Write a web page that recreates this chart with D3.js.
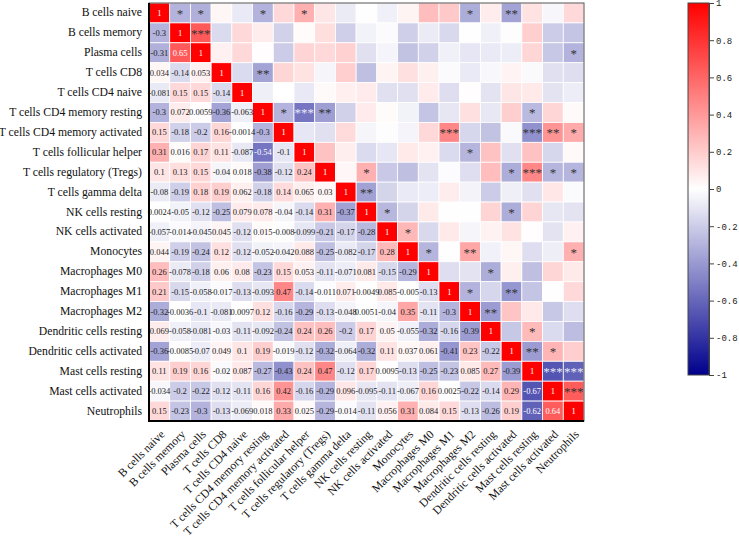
<!DOCTYPE html>
<html><head><meta charset="utf-8">
<script src="https://cdn.jsdelivr.net/npm/d3@7"></script>
<style>html,body{margin:0;padding:0;background:#fff;}svg{display:block;}</style>
</head><body>
<svg id="chart" width="739" height="537"></svg>
<script>
const cellTypes = ["B cells naive","B cells memory","Plasma cells","T cells CD8","T cells CD4 naive",
"T cells CD4 memory resting","T cells CD4 memory activated","T cells follicular helper",
"T cells regulatory (Tregs)","T cells gamma delta","NK cells resting","NK cells activated",
"Monocytes","Macrophages M0","Macrophages M1","Macrophages M2","Dendritic cells resting",
"Dendritic cells activated","Mast cells resting","Mast cells activated","Neutrophils"];

// lower triangle correlation values, row i has i values (columns 0..i-1)
const lowerTri = [
 [],
 [-0.3],
 [-0.31,0.65],
 [0.034,-0.14,0.053],
 [-0.081,0.15,0.15,-0.14],
 [-0.3,0.072,0.0059,-0.36,-0.063],
 [0.15,-0.18,-0.2,0.16,-0.0014,-0.3],
 [0.31,0.016,0.17,0.11,-0.087,-0.54,-0.1],
 [0.1,0.13,0.15,-0.04,0.018,-0.38,-0.12,0.24],
 [-0.08,-0.19,0.18,0.19,0.062,-0.18,0.14,0.065,0.03],
 [0.0024,-0.05,-0.12,-0.25,0.079,0.078,-0.04,-0.14,0.31,-0.37],
 [-0.057,-0.014,-0.045,0.045,-0.12,0.015,-0.008,-0.099,-0.21,-0.17,-0.28],
 [0.044,-0.19,-0.24,0.12,-0.12,-0.052,-0.042,0.088,-0.25,-0.082,-0.17,0.28],
 [0.26,-0.078,-0.18,0.06,0.08,-0.23,0.15,0.053,-0.11,-0.071,0.081,-0.15,-0.29],
 [0.21,-0.15,-0.058,-0.017,-0.13,-0.093,0.47,-0.14,-0.011,0.071,-0.0049,0.085,-0.005,-0.13],
 [-0.32,-0.0036,-0.1,-0.081,0.0097,0.12,-0.16,-0.29,-0.13,-0.048,0.0051,-0.04,0.35,-0.11,-0.3],
 [0.069,-0.058,-0.081,-0.03,-0.11,-0.092,-0.24,0.24,0.26,-0.2,0.17,0.05,-0.055,-0.32,-0.16,-0.39],
 [-0.36,-0.0085,-0.07,0.049,0.1,0.19,-0.019,-0.12,-0.32,-0.064,-0.32,0.11,0.037,0.061,-0.41,0.23,-0.22],
 [0.11,0.19,0.16,-0.02,0.087,-0.27,-0.43,0.24,0.47,-0.12,0.17,0.0095,-0.13,-0.25,-0.23,0.085,0.27,-0.39],
 [-0.034,-0.2,-0.22,-0.12,-0.11,0.16,0.42,-0.16,-0.29,0.096,-0.095,-0.11,-0.067,0.16,0.0025,-0.22,-0.14,0.29,-0.67],
 [0.15,-0.23,-0.3,-0.13,-0.069,0.018,0.33,0.025,-0.29,-0.014,-0.11,0.056,0.31,0.084,0.15,-0.13,-0.26,0.19,-0.62,0.64]
];

// significance marks in upper triangle: [row, col, stars]
const sigRows = [0,0,0,0,0,0,1,2,3,5,5,5,5,6,6,6,6,7,8,8,8,8,8,9,10,10,11,12,12,12,13,14,14,15,16,17,17,18,18,19];
const sigCols = [1,2,5,7,15,17,2,20,5,6,7,8,18,14,18,19,20,15,10,17,18,19,20,10,11,17,12,13,15,20,16,15,17,16,18,18,19,19,20,20];
const sigStars = ["*","*","*","*","*","**","***","*","**","*","***","**","*","***","***","**","*","*","*","*","***","*","*","**","*","*","*","*","**","*","*","*","**","**","*","**","*","***","***","***"];

const colorTicks = [1,0.8,0.6,0.4,0.2,0,-0.2,-0.4,-0.6,-0.8,-1];
const colorTickLabels = ["1","0.8","0.6","0.4","0.2","0","-0.2","-0.4","-0.6","-0.8","-1"];

const n = cellTypes.length;
const M = d3.range(n).map(i => d3.range(n).map(j => {
  if (i === j) return 1;
  return i > j ? lowerTri[i][j] : lowerTri[j][i];
}));

const svg = d3.select("#chart");
const gx0 = 149, gx1 = 584, gy0 = 3, gy1 = 421;
const x = d3.scaleBand().domain(d3.range(n)).range([gx0, gx1]);
const y = d3.scaleBand().domain(d3.range(n)).range([gy0, gy1]);
const color = d3.scaleLinear().domain([-1,0,1]).range(["#00008c","#ffffff","#ff0000"]).interpolate(d3.interpolateRgb).clamp(true);

const cells = [];
for (let i=0;i<n;i++) for (let j=0;j<n;j++) cells.push({i,j,v:M[i][j]});

svg.append("g").selectAll("rect").data(cells).join("rect")
  .attr("x", d => x(d.j)).attr("y", d => y(d.i))
  .attr("width", x.bandwidth()).attr("height", y.bandwidth())
  .attr("fill", d => color(d.v))
  .attr("stroke", "#ffffff").attr("stroke-width", 0.8);

// numbers (lower triangle + diagonal)
svg.append("g").selectAll("text").data(cells.filter(d => d.i >= d.j)).join("text")
  .attr("x", d => x(d.j) + x.bandwidth()/2)
  .attr("y", d => y(d.i) + y.bandwidth()/2)
  .attr("text-anchor","middle").attr("dominant-baseline","central")
  .attr("font-family","'Liberation Serif', 'Times New Roman', serif")
  .attr("font-size", 8.5)
  .attr("fill", d => (Math.abs(d.v) > 0.5) ? "#ffffff" : "#222")
  .text(d => String(d.v));

// stars (upper triangle)
const sig = sigRows.map((r,k) => ({i:r, j:sigCols[k], s:sigStars[k], v:M[r][sigCols[k]]}));
svg.append("g").selectAll("text").data(sig).join("text")
  .attr("x", d => x(d.j) + x.bandwidth()/2)
  .attr("y", d => y(d.i) + y.bandwidth()/2 + 5)
  .attr("text-anchor","middle")
  .attr("font-family","'Liberation Serif', 'Times New Roman', serif")
  .attr("font-size", 13)
  .attr("fill", d => d.v < -0.5 ? "#e8e8f4" : "#333")
  .text(d => d.s);

// border
svg.append("rect").attr("x", gx0).attr("y", gy0).attr("width", gx1-gx0).attr("height", gy1-gy0)
  .attr("fill","none").attr("stroke","#555").attr("stroke-width",1);
svg.append("line").attr("x1",gx0).attr("x2",gx0).attr("y1",gy0).attr("y2",gy1+1).attr("stroke","#000").attr("stroke-width",2);
svg.append("line").attr("x1",gx0).attr("x2",gx1).attr("y1",gy1).attr("y2",gy1).attr("stroke","#000").attr("stroke-width",2);

// row labels
svg.append("g").selectAll("text").data(cellTypes).join("text")
  .attr("x", gx0 - 7).attr("y", (d,i) => y(i) + y.bandwidth()/2)
  .attr("text-anchor","end").attr("dominant-baseline","central")
  .attr("font-family","'Liberation Serif', 'Times New Roman', serif")
  .attr("font-size", 11.7).attr("fill","#111")
  .text(d => d);

// column labels
svg.append("g").selectAll("text").data(cellTypes).join("text")
  .attr("transform", (d,i) => `translate(${x(i) + x.bandwidth()/2 + 6},${gy1 + 14}) rotate(-45)`)
  .attr("text-anchor","end")
  .attr("font-family","'Liberation Serif', 'Times New Roman', serif")
  .attr("font-size", 11.7).attr("fill","#111")
  .text(d => d);

// colorbar
const cbX = 688, cbW = 21, cbY0 = 3, cbY1 = 375;
const defs = svg.append("defs");
const grad = defs.append("linearGradient").attr("id","cbgrad").attr("x1","0").attr("y1","1").attr("x2","0").attr("y2","0");
d3.range(0, 1.0001, 0.05).forEach(t => {
  grad.append("stop").attr("offset", t).attr("stop-color", color(-1 + 2*t));
});
svg.append("rect").attr("x",cbX).attr("y",cbY0).attr("width",cbW).attr("height",cbY1-cbY0)
  .attr("fill","url(#cbgrad)").attr("stroke","#444").attr("stroke-width",1);
const cbScale = d3.scaleLinear().domain([-1,1]).range([cbY1, cbY0]);
const cbAxis = d3.axisRight(cbScale).tickValues(colorTicks).tickSize(5)
  .tickFormat((d,i) => colorTickLabels[i]);
const ga = svg.append("g").attr("transform",`translate(${cbX+cbW},0)`).call(cbAxis);
ga.select(".domain").attr("stroke","#444");
ga.selectAll(".tick line").attr("stroke","#444");
ga.selectAll(".tick text").attr("font-family","'Liberation Mono', 'DejaVu Sans Mono', monospace")
  .attr("font-size", 9).attr("fill","#222").attr("x", 7);
</script>
</body></html>
